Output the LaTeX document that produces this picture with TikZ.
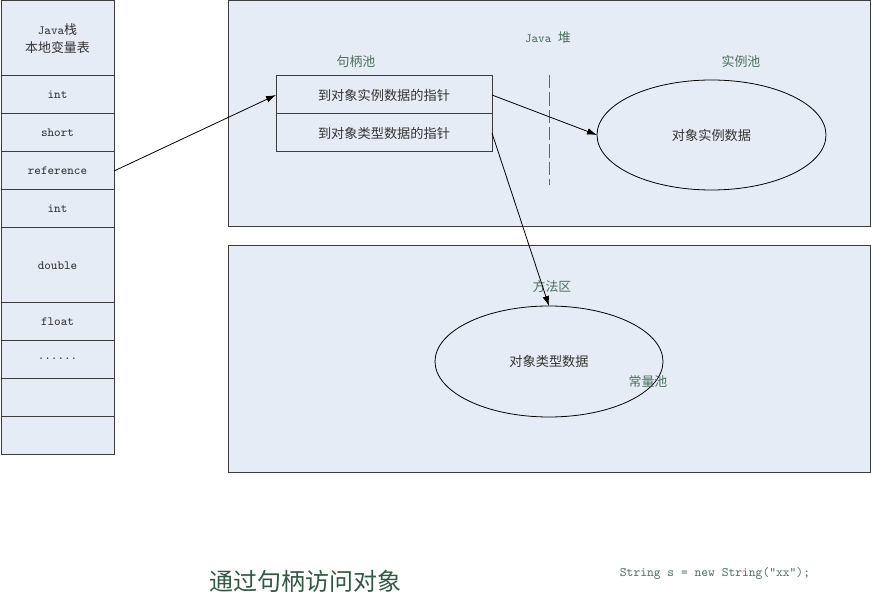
\documentclass[tikz,border=0pt]{standalone}
\usepackage{fontspec}
\newfontfamily\cjk{Noto Sans CJK SC}
\usetikzlibrary{arrows.meta,shapes.geometric}
\definecolor{fillc}{HTML}{E6ECF6}
\definecolor{edgec}{HTML}{3C3C3C}
\definecolor{labc}{HTML}{4C6E5C}
\definecolor{titc}{HTML}{2F5A40}
\definecolor{txtc}{HTML}{333333}
\begin{document}
\begin{tikzpicture}[x=0.75pt,y=-0.75pt,
  cell/.style={draw=edgec,fill=fillc,line width=0.75pt,minimum width=84.75pt,
    inner sep=0pt,outer sep=0pt,text=txtc,align=center,
    font=\ttfamily\fontsize{9.4}{11}\selectfont},
  area/.style={draw=edgec,fill=fillc,line width=0.75pt,minimum width=481.5pt,
    minimum height=169.5pt,inner sep=0pt,outer sep=0pt},
  handle/.style={draw=edgec,fill=fillc,line width=0.75pt,minimum width=162pt,
    minimum height=28.5pt,inner sep=0pt,outer sep=0pt,text=txtc,
    font=\cjk\fontsize{9.9}{11}\selectfont},
  oval/.style={ellipse,draw=black,fill=fillc,line width=0.6pt,inner sep=0pt,
    outer sep=0pt,text=txtc,font=\cjk\fontsize{9.9}{11}\selectfont},
  lab/.style={text=labc,inner sep=0pt,font=\cjk\fontsize{9.7}{11}\selectfont},
  arr/.style={line width=0.6pt,-{Latex[length=7.5pt,width=5pt]}}
]
\path[use as bounding box] (0,0) rectangle (871,598);

% Java stack
\node[cell,minimum height=56.25pt] (c0) at (57.5,38.5)
  {Java{\cjk\fontsize{9.7}{11}\selectfont 栈}\\[2pt]{\cjk\fontsize{9.7}{11}\selectfont 本地变量表}};
\node[cell,minimum height=28.5pt] (c1) at (57.5,95) {int};
\node[cell,minimum height=28.5pt] (c2) at (57.5,133) {short};
\node[cell,minimum height=28.5pt] (c3) at (57.5,171) {reference};
\node[cell,minimum height=28.5pt] (c4) at (57.5,209) {int};
\node[cell,minimum height=56.25pt] (c5) at (57.5,265.5) {double};
\node[cell,minimum height=28.5pt] (c6) at (57.5,322) {float};
\node[cell,minimum height=28.5pt] (c7) at (57.5,360) {\raisebox{2pt}{......}};
\node[cell,minimum height=28.5pt] (c8) at (57.5,398) {};
\node[cell,minimum height=27.75pt] (c9) at (57.5,435.5) {};

% Heap and method area
\node[area] (heap) at (549,114) {};
\node[area] (method) at (549,359) {};

% labels
\node[lab] (heaplab) at (548,38) {{\ttfamily\fontsize{9.4}{11}\selectfont Java }堆};
\node[lab] (poollab) at (356,62) {句柄池};
\node[lab] (instlab) at (741,62) {实例池};
\node[lab] (methlab) at (552,287) {方法区};

% handle pool
\node[handle] (h1) at (384,95) {到对象实例数据的指针};
\node[handle] (h2) at (384,133) {到对象类型数据的指针};

% dashed divider
\coordinate (dtop) at (549,75);
\coordinate (dbot) at (549,185);
\draw[labc!80!gray,line width=0.75pt,dash pattern=on 10pt off 3pt] (dtop) -- (dbot);

% ellipses
\node[oval,minimum width=171.75pt,minimum height=82.5pt] (inst) at (711.5,135) {对象实例数据};
\node[oval,minimum width=171pt,minimum height=83.25pt] (type) at (549,361.5) {对象类型数据};
\node[lab] (constlab) at (648,382) {常量池};

% arrows
\draw[arr] (c3.east) -- (h1.west);
\draw[arr] (h1.east) -- (inst.west);
\draw[arr] (h2.east) -- (type.north);

% bottom texts
\node[text=titc,inner sep=0pt,font=\cjk\fontsize{18}{20}\selectfont] (title) at (305,581) {通过句柄访问对象};
\node[text=labc,inner sep=0pt,font=\ttfamily\fontsize{9.7}{11}\selectfont] (code) at (715,573) {String s = new String("xx");};
\end{tikzpicture}
\end{document}
